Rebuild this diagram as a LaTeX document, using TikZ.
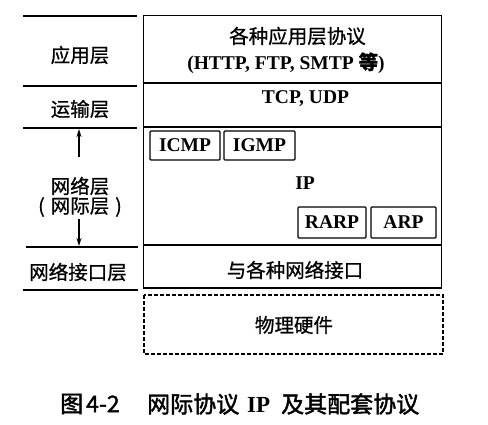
\documentclass[tikz,border=0pt]{standalone}
\usepackage{fontspec}
\setmainfont{Liberation Serif}
\newfontfamily\cjk[FakeBold=0.8]{Noto Sans CJK SC}
\newfontfamily\cjkb[FakeBold=1.8]{Noto Sans CJK SC}
\usetikzlibrary{arrows.meta}
\begin{document}
\begin{tikzpicture}[x=1pt,y=-1pt,
  rule/.style={line width=1.4pt},
  frame/.style={line width=1.3pt},
  lbl/.style={font=\cjk\fontsize{19.5}{22}\selectfont, inner sep=0pt},
  lat/.style={font=\bfseries\fontsize{19.5}{22}\selectfont, inner sep=0pt},
  proto/.style={draw, line width=1.1pt, rounded corners=1pt, inner sep=0pt,
    font=\bfseries\fontsize{19.5}{22}\selectfont},
  arr/.style={line width=1.3pt, -{Stealth[length=8pt,width=5pt]}},
  captext/.style={font=\cjkb\fontsize{23}{24}\selectfont, inner sep=0pt}]
\useasboundingbox (0,0) rectangle (488,425);
% left column rules
\draw[rule] (23,16) -- (137,16);
\draw[rule] (23,86) -- (137,86);
\draw[rule] (23,128) -- (137,128);
\draw[rule] (26,247) -- (138,247);
\draw[rule] (23,290) -- (138,290);
% left labels
\node[lbl] (app) at (80,55) {应用层};
\node[lbl] (trans) at (80,109) {运输层};
\node[lbl] (net1) at (80,186) {网络层};
\node[lbl] (net2) at (80,207) {(\hspace{6pt}网际层\hspace{6pt})};
\node[lbl] (link) at (78,272) {网络接口层};
% arrows
\coordinate (upS) at (79,157);
\coordinate (upE) at (79,129);
\coordinate (dnS) at (79,219);
\coordinate (dnE) at (79,246);
\draw[arr] (upS) -- (upE);
\draw[arr] (dnS) -- (dnE);
% right stack
\draw[frame] (143.5,15.5) rectangle (441.5,288);
\draw[frame] (143.5,83) -- (441.5,83);
\draw[frame] (143.5,127) -- (441.5,127);
\draw[frame] (143.5,245) -- (441.5,245);
\draw[line width=1.2pt, dash pattern=on 4pt off 2pt] (144,295) rectangle (443,354);
% right texts
\node[lbl] (apps) at (297.5,36) {各种应用层协议};
\node[inner sep=0pt] (appex) at (286,63) {\bfseries\fontsize{19.5}{22}\selectfont (HTTP, FTP, SMTP {\cjk 等})};
\node[lat] (tcp) at (305.5,99) {TCP, UDP};
\node[lat] (ip) at (305,183) {IP};
\node[lbl] (ifc) at (295,270) {与各种网络接口};
\node[lbl] (hw) at (294,325) {物理硬件};
% protocol boxes
\node[proto, minimum width=70pt, minimum height=29pt] (icmp) at (185,145.5) {ICMP};
\node[proto, minimum width=71pt, minimum height=29pt] (igmp) at (259.5,145.5) {IGMP};
\node[proto, minimum width=68pt, minimum height=31pt] (rarp) at (332,222.5) {RARP};
\node[proto, minimum width=65pt, minimum height=31pt] (arp) at (403.5,222.5) {ARP};
% caption
\node[captext, anchor=west] (cap1) at (60,404) {图\hspace{3pt}4-2};
\node[captext, anchor=west] (cap2) at (147,404) {网际协议\hspace{8pt}{\rmfamily\bfseries IP}\hspace{11pt}及其配套协议};
\end{tikzpicture}
\end{document}
